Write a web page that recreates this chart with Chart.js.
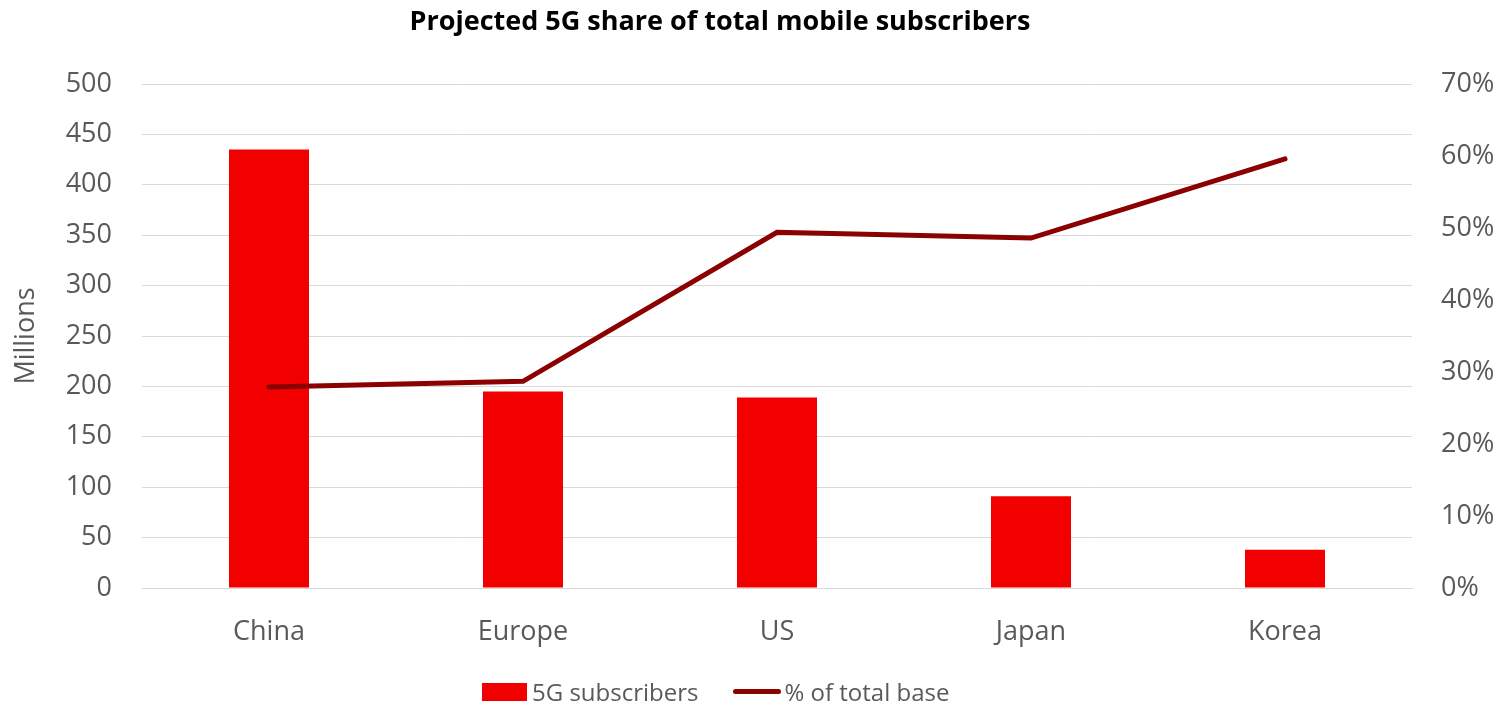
<!DOCTYPE html>
<html>
<head>
<meta charset="utf-8">
<script src="https://cdn.jsdelivr.net/npm/chart.js@4"></script>
<style>
  body { margin: 0; background: #fff; }
  #wrap { position: relative; width: 1502px; height: 708px; }
  #title { position: absolute; left: 0; width: 1440px; top: 1px; text-align: center;
    font: bold 27px "Open Sans", sans-serif; color: #000; }
  #legend { position: absolute; left: 482px; top: 675px; font: 24px "Open Sans", sans-serif; color: #595959;
    display: flex; align-items: center; white-space: nowrap; }
  .box { display: inline-block; width: 45px; height: 18px; background: #f20000; margin-right: 5px; }
  .ln { display: inline-block; width: 48px; height: 5px; border-radius: 3px; background: #8b0000; margin: 0 3px 0 35px; }
</style>
</head>
<body>
<div id="wrap">
  <canvas id="chart" width="1502" height="708"></canvas>
  <div id="title">Projected 5G share of total mobile subscribers</div>
  <div id="legend"><span class="box"></span>5G subscribers<span class="ln"></span>% of total base</div>
</div>
<script>
var regions = ['China', 'Europe', 'US', 'Japan', 'Korea']
var subscribers = [435, 195, 189, 91, 38]
var shareOfBase = [27.9, 28.7, 49.4, 48.6, 59.6]

var grey = '#595959'
var tickFont = { family: 'Open Sans', size: 27 }

var ctx = document.getElementById('chart').getContext('2d')
var chart = new Chart(ctx, {
	type: 'bar',
	data: {
		labels: regions,
		datasets: [{
			type: 'line',
			label: '% of total base',
			data: shareOfBase,
			yAxisID: 'y2',
			borderColor: '#8b0000',
			backgroundColor: '#8b0000',
			borderWidth: 5,
			pointRadius: 0,
			tension: 0,
			borderCapStyle: 'round'
		}, {
			label: '5G subscribers',
			data: subscribers,
			yAxisID: 'y',
			backgroundColor: '#f20000',
			categoryPercentage: 1,
			barPercentage: 0.315
		}]
	},
	options: {
		responsive: false,
		animation: false,
		layout: { padding: { top: 84, right: 0, left: 0, bottom: 0 } },
		plugins: { legend: { display: false }, title: { display: false }, tooltip: { enabled: false } },
		scales: {
			x: {
				grid: { display: false },
				border: { display: true, color: '#d9d9d9', width: 1 },
				ticks: { color: grey, font: tickFont, padding: 20 },
				afterFit: function(s) { s.height = 120 }
			},
			y: {
				position: 'left',
				min: 0, max: 500,
				ticks: { stepSize: 50, color: grey, font: tickFont, padding: 30 },
				grid: { color: '#d9d9d9', drawTicks: false },
				border: { display: false },
				title: { display: true, text: 'Millions', color: grey, font: tickFont, padding: { top: 10, bottom: 0 } },
				afterFit: function(s) { s.width = 142 }
			},
			y2: {
				position: 'right',
				min: 0, max: 70,
				ticks: { stepSize: 10, color: grey, font: tickFont, padding: 29,
					callback: function(v) { return v + '%' } },
				grid: { display: false, drawTicks: false },
				border: { display: false },
				afterFit: function(s) { s.width = 90 }
			}
		}
	}
})
</script>
</body>
</html>
